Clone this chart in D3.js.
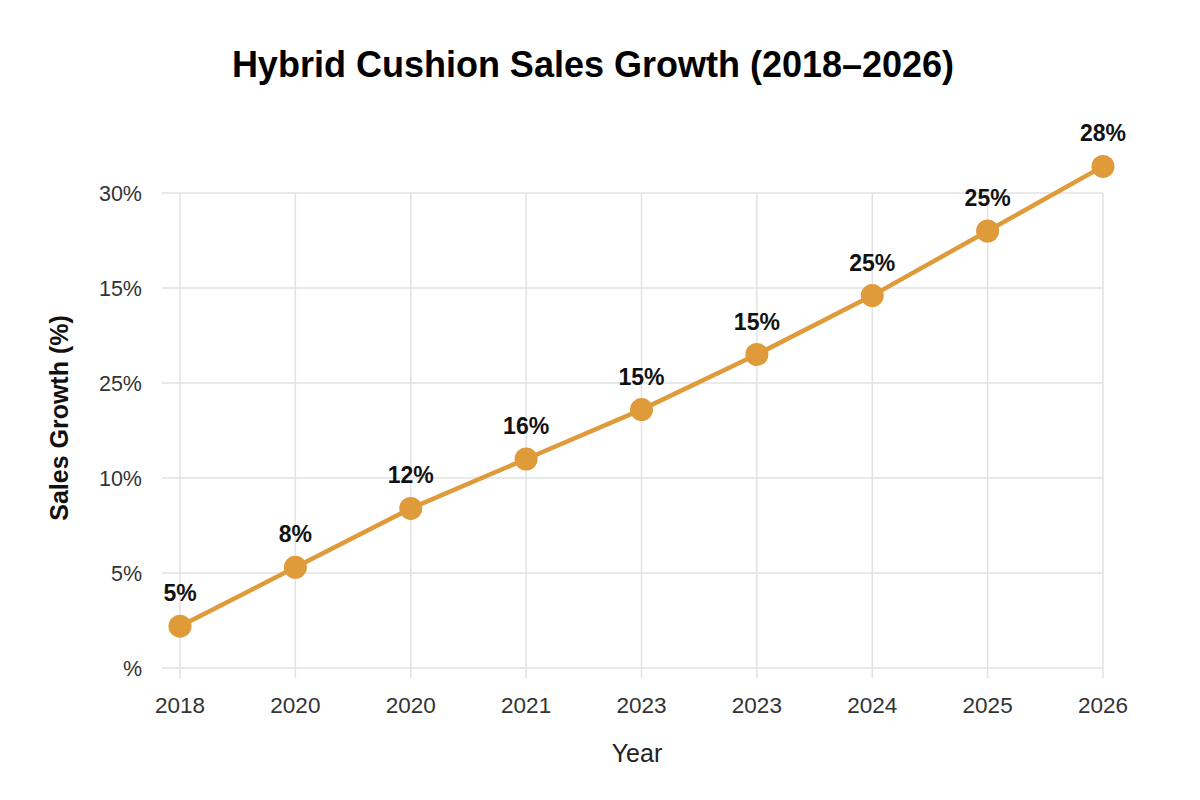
<!DOCTYPE html>
<html>
<head>
<meta charset="utf-8">
<script src="https://cdn.jsdelivr.net/npm/d3@7"></script>
<style>
  body { margin: 0; background: #fff; }
  text { font-family: "Liberation Sans", Arial, sans-serif; }
</style>
</head>
<body>
<div id="chart"></div>
<script>
// data
var years = ["2018", "2020", "2020", "2021", "2023", "2023", "2024", "2025", "2026"];
var growth = [2.2, 5.3, 8.4, 11.0, 13.6, 16.5, 19.6, 23.0, 26.4];
var pointLabels = ["5%", "8%", "12%", "16%", "15%", "15%", "25%", "25%", "28%"];
var yTicks = [0, 5, 10, 15, 20, 25];
var yTickLabels = ["%", "5%", "10%", "25%", "15%", "30%"];

var width = 1200, height = 800;
var margin = {top: 193, right: 97, bottom: 132, left: 180};
var gridLeft = 162;
var color = "#df9a3a";

var svg = d3.select("#chart").append("svg")
    .attr("width", width)
    .attr("height", height);

var idx = d3.range(years.length);
var x = d3.scalePoint()
    .domain(idx)
    .range([margin.left, width - margin.right]);
var y = d3.scaleLinear()
    .domain([0, 25])
    .range([height - margin.bottom, margin.top]);

// horizontal grid lines
svg.append("g").selectAll("line")
    .data(yTicks)
  .enter().append("line")
    .attr("x1", gridLeft)
    .attr("x2", width - margin.right)
    .attr("y1", function(d) { return y(d); })
    .attr("y2", function(d) { return y(d); })
    .attr("stroke", "#e2e2e2")
    .attr("stroke-width", 1.5);

// vertical grid lines (run past the bottom as ticks)
svg.append("g").selectAll("line")
    .data(idx)
  .enter().append("line")
    .attr("x1", function(d) { return x(d); })
    .attr("x2", function(d) { return x(d); })
    .attr("y1", y(25))
    .attr("y2", y(0) + 10)
    .attr("stroke", "#e2e2e2")
    .attr("stroke-width", 1.5);

// y tick labels
svg.append("g").selectAll("text")
    .data(yTicks)
  .enter().append("text")
    .attr("x", 142)
    .attr("y", function(d) { return y(d); })
    .attr("dy", "0.35em")
    .attr("text-anchor", "end")
    .attr("font-size", 21.5)
    .attr("fill", "#333")
    .text(function(d, i) { return yTickLabels[i]; });

// x tick labels
svg.append("g").selectAll("text")
    .data(idx)
  .enter().append("text")
    .attr("x", function(d) { return x(d); })
    .attr("y", 713)
    .attr("text-anchor", "middle")
    .attr("font-size", 22.5)
    .attr("fill", "#333")
    .text(function(d) { return years[d]; });

// line
var line = d3.line()
    .x(function(d, i) { return x(i); })
    .y(function(d) { return y(d); });

svg.append("path")
    .datum(growth)
    .attr("d", line)
    .attr("fill", "none")
    .attr("stroke", color)
    .attr("stroke-width", 4.5)
    .attr("stroke-linejoin", "round");

// points
svg.append("g").selectAll("circle")
    .data(growth)
  .enter().append("circle")
    .attr("cx", function(d, i) { return x(i); })
    .attr("cy", function(d) { return y(d); })
    .attr("r", 11.5)
    .attr("fill", color);

// point labels
svg.append("g").selectAll("text")
    .data(growth)
  .enter().append("text")
    .attr("x", function(d, i) { return x(i); })
    .attr("y", function(d) { return y(d) - 25; })
    .attr("text-anchor", "middle")
    .attr("font-size", 23)
    .attr("font-weight", "bold")
    .attr("fill", "#111")
    .text(function(d, i) { return pointLabels[i]; });

// title
svg.append("text")
    .attr("x", 593)
    .attr("y", 77)
    .attr("text-anchor", "middle")
    .attr("font-size", 36)
    .attr("font-weight", "bold")
    .attr("fill", "#000")
    .text("Hybrid Cushion Sales Growth (2018\u20132026)");

// axis titles
svg.append("text")
    .attr("x", 637)
    .attr("y", 762)
    .attr("text-anchor", "middle")
    .attr("font-size", 25)
    .attr("fill", "#222")
    .text("Year");

svg.append("text")
    .attr("transform", "translate(68,418) rotate(-90)")
    .attr("text-anchor", "middle")
    .attr("font-size", 25)
    .attr("font-weight", "bold")
    .attr("fill", "#111")
    .text("Sales Growth (%)");
</script>
</body>
</html>
